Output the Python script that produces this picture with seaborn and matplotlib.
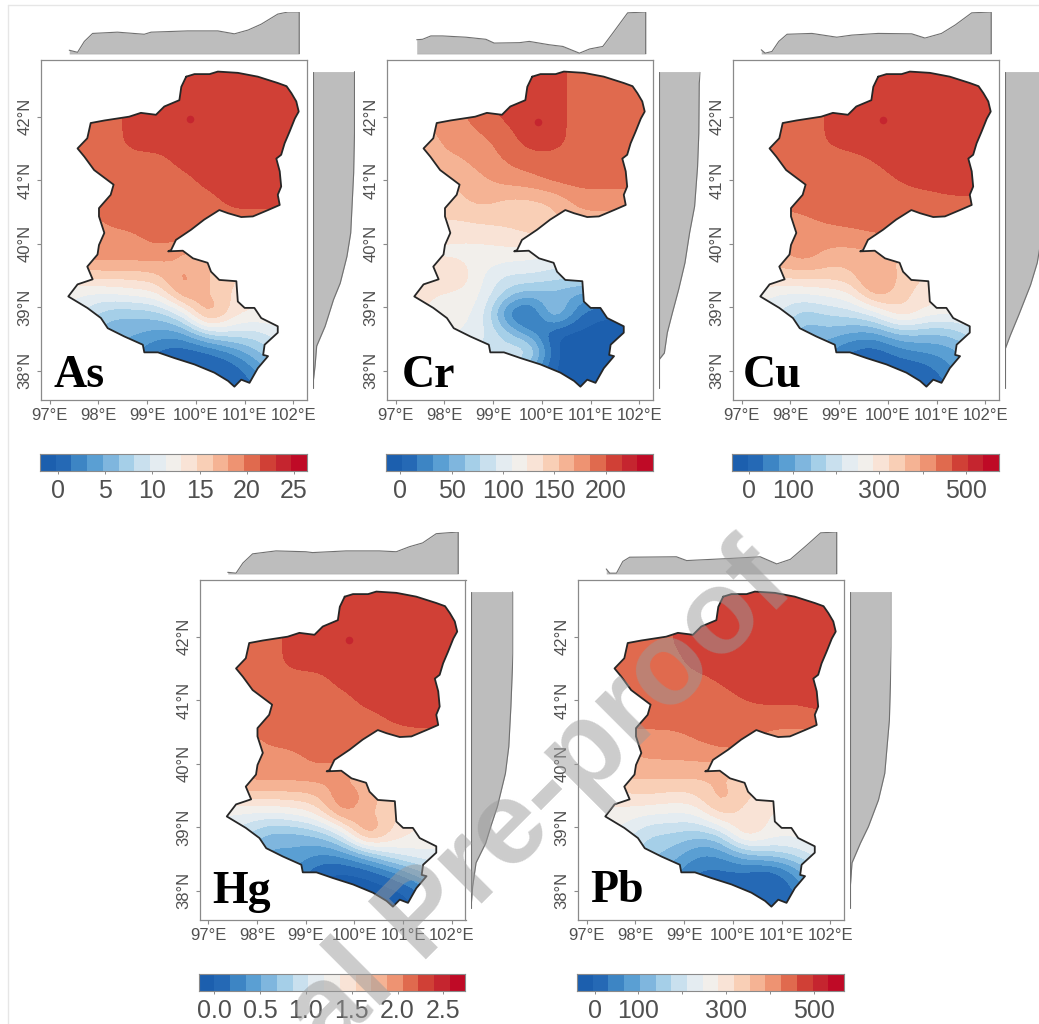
import numpy as np
import seaborn as sns
from matplotlib import pyplot as plt
from matplotlib.lines import Line2D
from matplotlib.patches import Polygon

W, H = 1039, 1024

# basin outline
border_lon = [99.80, 99.97, 100.28, 100.45, 100.86, 101.27, 101.68, 101.86, 101.96, 102.06, 102.11, 102.03, 101.92,
              101.82, 101.75, 101.65, 101.72, 101.75, 101.68, 101.72, 101.48, 101.17, 100.93, 100.66, 100.48, 100.17,
              99.90, 99.59, 99.49, 99.43, 99.73, 99.94, 100.24, 100.31, 100.48, 100.83, 100.86, 101.00, 101.20,
              101.34, 101.68, 101.68, 101.41, 101.38, 101.48, 101.27, 101.10, 100.93, 100.79, 100.66, 100.38, 99.97,
              99.56, 99.22, 98.94, 98.91, 98.53, 98.19, 98.05, 97.77, 97.38, 97.57, 97.88, 97.77, 97.98, 98.01,
              98.12, 98.01, 98.01, 98.25, 98.31, 97.91, 97.71, 97.57, 97.77, 97.84, 98.12, 98.63, 98.87, 99.18,
              99.35, 99.66, 99.70, 99.80]
border_lat = [42.63, 42.67, 42.67, 42.71, 42.69, 42.63, 42.53, 42.48, 42.37, 42.24, 42.08, 41.97, 41.76,
              41.58, 41.40, 41.34, 41.14, 40.90, 40.77, 40.61, 40.53, 40.43, 40.42, 40.48, 40.53, 40.38,
              40.22, 40.06, 39.90, 39.88, 39.89, 39.77, 39.70, 39.56, 39.43, 39.41, 39.09, 38.99, 38.99,
              38.83, 38.70, 38.60, 38.41, 38.25, 38.23, 38.04, 37.81, 37.86, 37.75, 37.84, 37.97, 38.10,
              38.20, 38.29, 38.29, 38.41, 38.54, 38.67, 38.83, 38.99, 39.17, 39.36, 39.44, 39.64, 39.83, 39.98,
              40.17, 40.43, 40.56, 40.77, 40.93, 41.16, 41.37, 41.50, 41.66, 41.90, 41.94, 42.00, 42.06, 42.03,
              42.16, 42.26, 42.47, 42.63]

# grid the concentrations were read on
grid_lon = [97.25, 97.75, 98.25, 98.75, 99.25, 99.75, 100.25, 100.75, 101.25, 101.75, 102.25]
grid_lat = [42.8, 42.5, 42.2, 41.9, 41.6, 41.3, 41.0, 40.7, 40.4, 40.1, 39.8, 39.5, 39.2, 38.9, 38.6, 38.3, 38.0, 37.7]

as_grid = [
    [20.5, 20.5, 20.5, 22.3, 22.3, 22.3, 22.3, 22.3, 22.3, 22.3, 22.3],
    [20.5, 20.5, 20.5, 22.3, 22.3, 22.3, 22.3, 22.3, 22.3, 22.3, 22.3],
    [20.5, 20.5, 20.5, 22.3, 22.3, 22.3, 22.3, 22.3, 22.3, 22.3, 22.3],
    [20.5, 20.5, 20.5, 22.3, 22.3, 22.3, 22.3, 22.3, 22.3, 22.3, 22.3],
    [20.5, 20.5, 20.5, 22.3, 22.3, 22.3, 22.3, 22.3, 22.3, 22.3, 22.3],
    [20.5, 20.5, 20.5, 20.5, 20.5, 22.3, 22.3, 22.3, 22.3, 22.3, 22.3],
    [20.5, 20.5, 20.5, 20.5, 20.5, 20.5, 22.3, 22.3, 22.3, 22.3, 22.3],
    [20.5, 20.5, 20.5, 20.5, 20.5, 20.5, 20.5, 22.3, 22.3, 22.3, 22.3],
    [18.9, 18.9, 20.5, 20.5, 20.5, 20.5, 20.5, 20.5, 20.5, 20.5, 20.5],
    [18.9, 18.9, 18.9, 19.4, 20.5, 20.5, 20.5, 20.5, 20.5, 20.5, 20.5],
    [18.9, 18.9, 18.9, 18.9, 18.9, 17.0, 16.0, 15.0, 15.0, 15.0, 15.0],
    [14.0, 15.5, 15.5, 15.5, 16.0, 19.5, 16.5, 15.0, 14.0, 14.0, 14.0],
    [12.0, 11.0, 11.0, 12.0, 12.5, 19.0, 16.0, 14.5, 13.0, 13.0, 13.0],
    [12.0, 9.0, 6.5, 6.5, 7.0, 10.0, 20.0, 13.5, 13.0, 13.0, 13.0],
    [9.0, 7.0, 5.0, 5.0, 4.0, 4.0, 9.0, 9.5, 9.0, 11.0, 12.0],
    [6.0, 5.0, 5.0, 3.5, 0.5, 0.0, 0.5, 3.0, 6.0, 9.0, 9.0],
    [4.0, 4.0, 4.0, 2.0, 0.0, -0.5, -0.5, -0.5, 3.0, 6.0, 6.0],
    [3.0, 3.0, 3.0, 2.0, 0.0, -0.5, -0.5, -0.5, 1.0, 3.0, 3.0],
]
cr_grid = [
    [177, 177, 192, 192, 208, 208, 208, 192, 192, 192, 192],
    [177, 177, 192, 192, 208, 208, 208, 192, 192, 192, 192],
    [177, 177, 185, 192, 208, 208, 208, 192, 192, 192, 192],
    [170, 170, 177, 192, 200, 208, 208, 192, 192, 192, 192],
    [162, 165, 177, 177, 192, 208, 208, 192, 192, 192, 192],
    [150, 165, 165, 177, 185, 192, 192, 192, 192, 192, 192],
    [150, 150, 155, 165, 177, 180, 192, 192, 192, 192, 192],
    [150, 150, 150, 162, 150, 150, 155, 177, 177, 177, 177],
    [140, 140, 140, 145, 145, 145, 150, 165, 165, 165, 165],
    [125, 125, 125, 125, 131, 140, 140, 140, 140, 140, 140],
    [120, 122, 118, 118, 115, 110, 105, 100, 100, 100, 100],
    [125, 130, 145, 108, 90, 95, 85, 85, 85, 85, 85],
    [130, 125, 118, 112, 70, 50, 55, 40, 40, 40, 40],
    [128, 120, 112, 108, 20, -10, 85, 15, 0, 0, 0],
    [120, 115, 110, 100, 70, 30, -5, -5, -5, -5, -5],
    [100, 100, 100, 90, 85, 105, -5, -5, -5, -5, -5],
    [100, 100, 90, 70, 85, 40, -5, -5, -5, -5, -5],
    [100, 100, 90, 70, 85, 40, -5, -5, -5, -5, -5],
]
cu_grid = [
    [449, 449, 449, 470, 485, 485, 485, 485, 485, 485, 485],
    [449, 449, 449, 470, 485, 485, 485, 485, 485, 485, 485],
    [449, 449, 449, 470, 485, 485, 485, 485, 485, 485, 485],
    [449, 449, 449, 470, 485, 485, 485, 485, 485, 485, 485],
    [449, 449, 449, 470, 485, 485, 485, 485, 485, 485, 485],
    [449, 449, 449, 449, 449, 470, 485, 485, 485, 485, 485],
    [449, 449, 449, 449, 449, 449, 470, 485, 485, 485, 485],
    [449, 449, 449, 449, 449, 449, 449, 449, 462, 462, 462],
    [412, 412, 425, 440, 449, 449, 449, 449, 449, 449, 449],
    [412, 412, 412, 412, 412, 430, 430, 430, 430, 430, 430],
    [376, 376, 425, 376, 376, 376, 340, 340, 340, 340, 340],
    [330, 340, 340, 340, 345, 430, 345, 320, 300, 300, 300],
    [260, 235, 240, 255, 275, 400, 330, 310, 290, 280, 280],
    [260, 220, 150, 180, 190, 225, 340, 270, 260, 260, 260],
    [200, 190, 110, 130, 100, 90, 150, 140, 140, 200, 240],
    [150, 130, 130, 70, 15, 0, 50, 70, 80, 130, 170],
    [100, 100, 100, 60, 10, -10, -10, 0, 60, 100, 130],
    [80, 80, 80, 60, 10, -10, -10, -10, 20, 80, 100],
]
hg_grid = [
    [2.13, 2.13, 2.13, 2.31, 2.31, 2.31, 2.31, 2.31, 2.31, 2.31, 2.31],
    [2.13, 2.13, 2.13, 2.31, 2.31, 2.31, 2.31, 2.31, 2.31, 2.31, 2.31],
    [2.13, 2.13, 2.13, 2.31, 2.31, 2.31, 2.31, 2.31, 2.31, 2.31, 2.31],
    [2.13, 2.13, 2.13, 2.31, 2.31, 2.31, 2.31, 2.31, 2.31, 2.31, 2.31],
    [2.13, 2.13, 2.13, 2.31, 2.31, 2.31, 2.31, 2.31, 2.31, 2.31, 2.31],
    [2.13, 2.13, 2.13, 2.13, 2.13, 2.31, 2.31, 2.31, 2.31, 2.31, 2.31],
    [2.13, 2.13, 2.13, 2.13, 2.13, 2.13, 2.31, 2.31, 2.31, 2.31, 2.31],
    [2.13, 2.13, 2.13, 2.13, 2.13, 2.13, 2.13, 2.25, 2.31, 2.31, 2.31],
    [1.96, 1.96, 2.13, 2.13, 2.13, 2.13, 2.13, 2.13, 2.13, 2.13, 2.13],
    [1.96, 1.96, 1.96, 2.00, 2.13, 2.13, 2.13, 2.13, 2.13, 2.13, 2.13],
    [1.96, 1.96, 1.96, 1.96, 1.96, 1.85, 1.70, 1.60, 1.60, 1.60, 1.60],
    [1.45, 1.65, 1.65, 1.65, 1.70, 2.10, 1.85, 1.60, 1.45, 1.40, 1.40],
    [1.20, 1.15, 1.10, 1.20, 1.35, 2.00, 1.70, 1.60, 1.40, 1.30, 1.30],
    [1.10, 0.90, 0.60, 0.60, 0.70, 1.00, 2.10, 1.50, 1.35, 1.30, 1.30],
    [0.90, 0.60, 0.45, 0.50, 0.35, 0.40, 0.75, 1.10, 1.20, 1.20, 1.20],
    [0.50, 0.50, 0.50, 0.35, 0.00, -0.05, 0.00, 0.25, 0.60, 0.90, 0.90],
    [0.30, 0.30, 0.30, 0.15, 0.00, -0.10, -0.10, -0.10, 0.05, 0.50, 0.50],
    [0.20, 0.20, 0.20, 0.10, 0.00, -0.10, -0.10, -0.10, -0.05, 0.30, 0.30],
]
pb_grid = [
    [443, 443, 443, 460, 479, 479, 479, 479, 479, 479, 479],
    [443, 443, 443, 460, 479, 479, 479, 479, 479, 479, 479],
    [443, 443, 443, 460, 479, 479, 479, 479, 479, 479, 479],
    [430, 443, 443, 460, 479, 479, 479, 479, 479, 479, 479],
    [420, 425, 443, 443, 479, 479, 479, 479, 479, 479, 479],
    [420, 430, 443, 443, 443, 465, 479, 479, 479, 479, 479],
    [430, 443, 443, 443, 443, 443, 462, 470, 465, 479, 479],
    [443, 443, 443, 443, 443, 443, 443, 440, 440, 443, 443],
    [408, 408, 408, 408, 430, 443, 443, 408, 408, 408, 408],
    [372, 380, 395, 395, 395, 408, 408, 408, 408, 408, 408],
    [350, 360, 360, 360, 360, 345, 330, 320, 310, 310, 310],
    [290, 310, 320, 305, 310, 390, 325, 300, 290, 280, 280],
    [270, 262, 245, 240, 240, 340, 295, 280, 270, 265, 265],
    [255, 235, 170, 170, 150, 170, 345, 265, 260, 260, 260],
    [210, 195, 150, 130, 70, 70, 150, 170, 190, 240, 250],
    [160, 150, 130, 80, 20, 20, 20, -10, 60, 170, 190],
    [120, 120, 110, 60, 15, 5, 5, 0, 20, 90, 120],
    [100, 100, 90, 50, 15, 5, 0, 0, 10, 60, 90],
]

# marginal profiles (share of the panel maximum)
as_top_lon = [97.40, 97.57, 97.71, 97.88, 98.39, 98.94, 99.08, 99.83, 100.45, 100.79, 101.07, 101.34, 101.68, 101.89, 102.12]
as_top_val = [0.09, 0.04, 0.30, 0.49, 0.52, 0.47, 0.52, 0.55, 0.55, 0.48, 0.57, 0.71, 0.95, 1.0, 1.0]
as_right_lat = [42.71, 41.74, 41.11, 40.17, 39.80, 39.38, 39.12, 38.70, 38.39, 38.07, 37.73]
as_right_val = [1.0, 1.0, 0.98, 0.91, 0.82, 0.66, 0.50, 0.30, 0.10, 0.06, 0.0]

cr_top_lon = [97.43, 97.55, 97.72, 97.96, 98.44, 98.85, 99.02, 99.54, 99.74, 100.15, 100.43, 100.77, 100.98, 101.25, 101.45, 101.76, 102.13]
cr_top_val = [0.34, 0.35, 0.43, 0.43, 0.40, 0.35, 0.26, 0.27, 0.30, 0.22, 0.18, 0.02, 0.12, 0.18, 0.49, 0.98, 1.0]
cr_right_lat = [42.71, 42.53, 41.74, 41.21, 40.59, 40.17, 39.70, 39.28, 38.91, 38.60, 38.28, 38.18, 37.73]
cr_right_val = [1.0, 0.97, 0.96, 0.93, 0.86, 0.74, 0.63, 0.48, 0.33, 0.21, 0.14, 0.02, 0.0]

cu_top_lon = [97.40, 97.48, 97.62, 97.76, 97.93, 98.44, 98.95, 99.26, 99.80, 100.49, 100.76, 101.10, 101.38, 101.72, 102.12]
cu_top_val = [0.10, 0.02, 0.06, 0.30, 0.47, 0.49, 0.40, 0.45, 0.49, 0.48, 0.38, 0.49, 0.69, 0.98, 1.0]
cu_right_lat = [42.71, 41.74, 41.11, 40.17, 39.70, 39.35, 38.88, 38.56, 38.35, 37.73]
cu_right_val = [1.0, 1.0, 0.98, 0.90, 0.78, 0.62, 0.34, 0.14, 0.02, 0.0]

hg_top_lon = [97.40, 97.57, 97.71, 97.91, 98.39, 99.0, 99.14, 99.83, 100.51, 100.86, 101.13, 101.40, 101.68, 102.13]
hg_top_val = [0.04, 0.02, 0.26, 0.48, 0.55, 0.53, 0.51, 0.55, 0.55, 0.53, 0.65, 0.74, 0.96, 1.0]
hg_right_lat = [42.71, 41.74, 40.90, 40.27, 39.85, 39.33, 39.01, 38.75, 38.44, 38.07, 37.73]
hg_right_val = [1.0, 1.0, 0.95, 0.90, 0.82, 0.63, 0.47, 0.35, 0.12, 0.04, 0.0]

pb_top_lon = [97.40, 97.47, 97.61, 97.74, 97.88, 98.84, 99.05, 99.94, 100.56, 100.90, 101.18, 101.52, 101.80, 102.13]
pb_top_val = [0.12, 0.02, 0.02, 0.30, 0.40, 0.41, 0.32, 0.37, 0.41, 0.24, 0.35, 0.69, 0.98, 1.0]
pb_right_lat = [42.71, 41.84, 40.69, 39.85, 39.43, 39.01, 38.75, 38.44, 38.07, 37.73]
pb_right_val = [1.0, 1.0, 0.95, 0.84, 0.69, 0.45, 0.26, 0.06, 0.02, 0.0]

# colour bar ranges and ticks
as_range, as_ticks, as_labels = (-1.94, 26.4), [0, 5, 10, 15, 20, 25], ['0', '5', '10', '15', '20', '25']
cr_range, cr_ticks, cr_labels = (-14, 246), [0, 50, 100, 150, 200], ['0', '50', '100', '150', '200']
cu_range, cu_ticks, cu_labels = (-40, 576), [0, 100, 200, 300, 400, 500], ['0', '100', '', '300', '', '500']
hg_range, hg_ticks, hg_labels = (-0.17, 2.74), [0, 0.5, 1, 1.5, 2, 2.5], ['0.0', '0.5', '1.0', '1.5', '2.0', '2.5']
pb_range, pb_ticks, pb_labels = (-40, 568), [0, 100, 200, 300, 400, 500], ['0', '100', '', '300', '', '500']

lon_ticks = [97, 98, 99, 100, 101, 102]
lat_ticks = [38, 39, 40, 41, 42]

# hot spot near 100E 42N, Pb has none
as_spot = (99.87, 41.96)
cr_spot = (99.91, 41.92)
cu_spot = (99.90, 41.94)
hg_spot = (99.89, 41.95)

panels = [
    dict(name='As', grid=as_grid, rng=as_range, ticks=as_ticks, labels=as_labels, spot=as_spot,
         top=(as_top_lon, as_top_val), right=(as_right_lat, as_right_val), x=41, y=59.5, tx=53, ty=387),
    dict(name='Cr', grid=cr_grid, rng=cr_range, ticks=cr_ticks, labels=cr_labels, spot=cr_spot,
         top=(cr_top_lon, cr_top_val), right=(cr_right_lat, cr_right_val), x=387, y=59.5, tx=402, ty=387),
    dict(name='Cu', grid=cu_grid, rng=cu_range, ticks=cu_ticks, labels=cu_labels, spot=cu_spot,
         top=(cu_top_lon, cu_top_val), right=(cu_right_lat, cu_right_val), x=733, y=59.5, tx=743, ty=387),
    dict(name='Hg', grid=hg_grid, rng=hg_range, ticks=hg_ticks, labels=hg_labels, spot=hg_spot,
         top=(hg_top_lon, hg_top_val), right=(hg_right_lat, hg_right_val), x=199.5, y=579.5, tx=212, ty=903),
    dict(name='Pb', grid=pb_grid, rng=pb_range, ticks=pb_ticks, labels=pb_labels, spot=None,
         top=(pb_top_lon, pb_top_val), right=(pb_right_lat, pb_right_val), x=578, y=579.5, tx=590, ty=902),
]

sns.set_theme(style='white')
plt.rcParams['font.family'] = ['Liberation Sans', 'DejaVu Sans']

palette = sns.color_palette(['#1c5fae', '#2569b5', '#3d85c4', '#5a9fd3', '#7fb6de', '#a5cfe8', '#c9e0ee', '#e4ecf1',
                             '#f2efeb', '#f9e3d6', '#f9cfb6', '#f5b394', '#ee9372', '#e06a4e', '#d04036', '#c5252f',
                             '#bf0a26'])

fig = plt.figure(figsize=(W / 100, H / 100), dpi=100)


def add_px_axes(x0, y0, w, h):
    return fig.add_axes([x0 / W, 1 - (y0 + h) / H, w / W, h / H])


def soften(z, n=5, passes=2):
    # finer mesh and a box filter, so the class edges come out rounded
    fine_lon = np.linspace(grid_lon[0], grid_lon[-1], (len(grid_lon) - 1) * n + 1)
    fine_lat = np.linspace(grid_lat[0], grid_lat[-1], (len(grid_lat) - 1) * n + 1)
    z = np.array([np.interp(fine_lon, grid_lon, row) for row in z])
    z = np.array([np.interp(fine_lat, grid_lat[::-1], col[::-1]) for col in z.T]).T[::-1]
    kernel = np.ones(n) / n
    for _ in range(passes):
        z = np.apply_along_axis(lambda v: np.convolve(np.pad(v, n, mode='edge'), kernel, mode='same')[n:-n], 0, z)
        z = np.apply_along_axis(lambda v: np.convolve(np.pad(v, n, mode='edge'), kernel, mode='same')[n:-n], 1, z)
    return fine_lon, fine_lat[::-1], z


xlim = (96.82, 102.28)
ylim = (37.54, 42.9)
text_grey = '#505050'
edge_grey = '#8a8a8a'

for p in panels:
    x0, y0 = p['x'], p['y']
    vmin, vmax = p['rng']
    levels = np.linspace(vmin, vmax, 18)

    # main map
    ax = add_px_axes(x0, y0, 266, 340.5)
    mesh_lon, mesh_lat, mesh = soften(p['grid'])
    cs = ax.contourf(mesh_lon, mesh_lat, np.clip(mesh, vmin + 0.001, vmax), levels=levels, colors=palette, extend='neither')
    clip = Polygon(np.column_stack([border_lon, border_lat]), closed=True, transform=ax.transData, fc='none', ec='none')
    ax.add_patch(clip)
    cs.set_clip_path(clip)
    sns.lineplot(x=border_lon, y=border_lat, sort=False, estimator=None, color='#262626', lw=1.3, ax=ax)
    if p['spot'] is not None:
        sns.scatterplot(x=[p['spot'][0]], y=[p['spot'][1]], color=palette[15], s=30, linewidth=0, ax=ax)
    ax.set_xlim(xlim)
    ax.set_ylim(ylim)
    ax.set_xticks(lon_ticks)
    ax.set_xticklabels([f'{v}°E' for v in lon_ticks])
    ax.set_yticks(lat_ticks)
    ax.set_yticklabels([f'{v}°N' for v in lat_ticks], rotation=90, va='center')
    ax.tick_params(length=3, width=0.8, color=edge_grey, labelcolor=text_grey, labelsize=12, pad=3, bottom=True, left=True)
    for s in ax.spines.values():
        s.set_color(edge_grey)
        s.set_linewidth(0.9)
    fig.text(p['tx'] / W, 1 - p['ty'] / H, p['name'], family='Liberation Serif', weight='bold', fontsize=33,
             color='black', ha='left', va='baseline')

    # top profile
    top = add_px_axes(x0, y0 - 47.5, 266, 42)
    t_lon, t_val = p['top']
    top.fill_between(t_lon, 0, t_val, color='#bdbdbd', lw=0)
    sns.lineplot(x=t_lon + [t_lon[-1]], y=t_val + [0], sort=False, estimator=None, color='#707070', lw=0.8, ax=top)
    sns.lineplot(x=[t_lon[0], t_lon[-1]], y=[0, 0], sort=False, estimator=None, color='#707070', lw=0.8, ax=top)
    top.set_xlim(xlim)
    top.set_ylim(0, 1)
    top.axis('off')

    # right profile
    side = add_px_axes(x0 + 271.5, y0, 42, 340.5)
    r_lat, r_val = p['right']
    side.fill_betweenx(r_lat, 0, r_val, color='#bdbdbd', lw=0)
    sns.lineplot(x=r_val, y=r_lat, sort=False, estimator=None, orient='y', color='#707070', lw=0.8, ax=side)
    sns.lineplot(x=[0, 0], y=[r_lat[0], r_lat[-1]], sort=False, estimator=None, orient='y', color='#707070', lw=0.8, ax=side)
    side.set_xlim(0, 1)
    side.set_ylim(ylim)
    side.axis('off')

    # colour bar
    bar = add_px_axes(x0 - 1, y0 + 394.5, 267, 17)
    sns.heatmap(np.arange(17).reshape(1, 17), cmap=palette, cbar=False, xticklabels=False, yticklabels=False, ax=bar)
    step = (vmax - vmin) / 17
    bar.set_xticks([(v - vmin) / step for v in p['ticks']])
    bar.set_xticklabels(p['labels'], rotation=0)
    bar.tick_params(axis='x', bottom=True, length=2, width=0.7, color=edge_grey, labelcolor=text_grey, labelsize=18, pad=4)
    for s in bar.spines.values():
        s.set_visible(True)
        s.set_color(edge_grey)
        s.set_linewidth(0.8)

# page edge
fig.add_artist(Line2D([8 / W, 8 / W], [0, 1 - 5 / H], color='#e6e6e6', lw=1))
fig.add_artist(Line2D([8 / W, 1], [1 - 5 / H, 1 - 5 / H], color='#e6e6e6', lw=1))

# watermark
fig.text(775 / W, 1 - 568 / H, 'Journal Pre-proof', fontsize=85, weight='bold', color='#9a9a9a', alpha=0.5,
         rotation=45, rotation_mode='anchor', ha='right', va='center', zorder=20)

fig.savefig('out.png', dpi=100)
